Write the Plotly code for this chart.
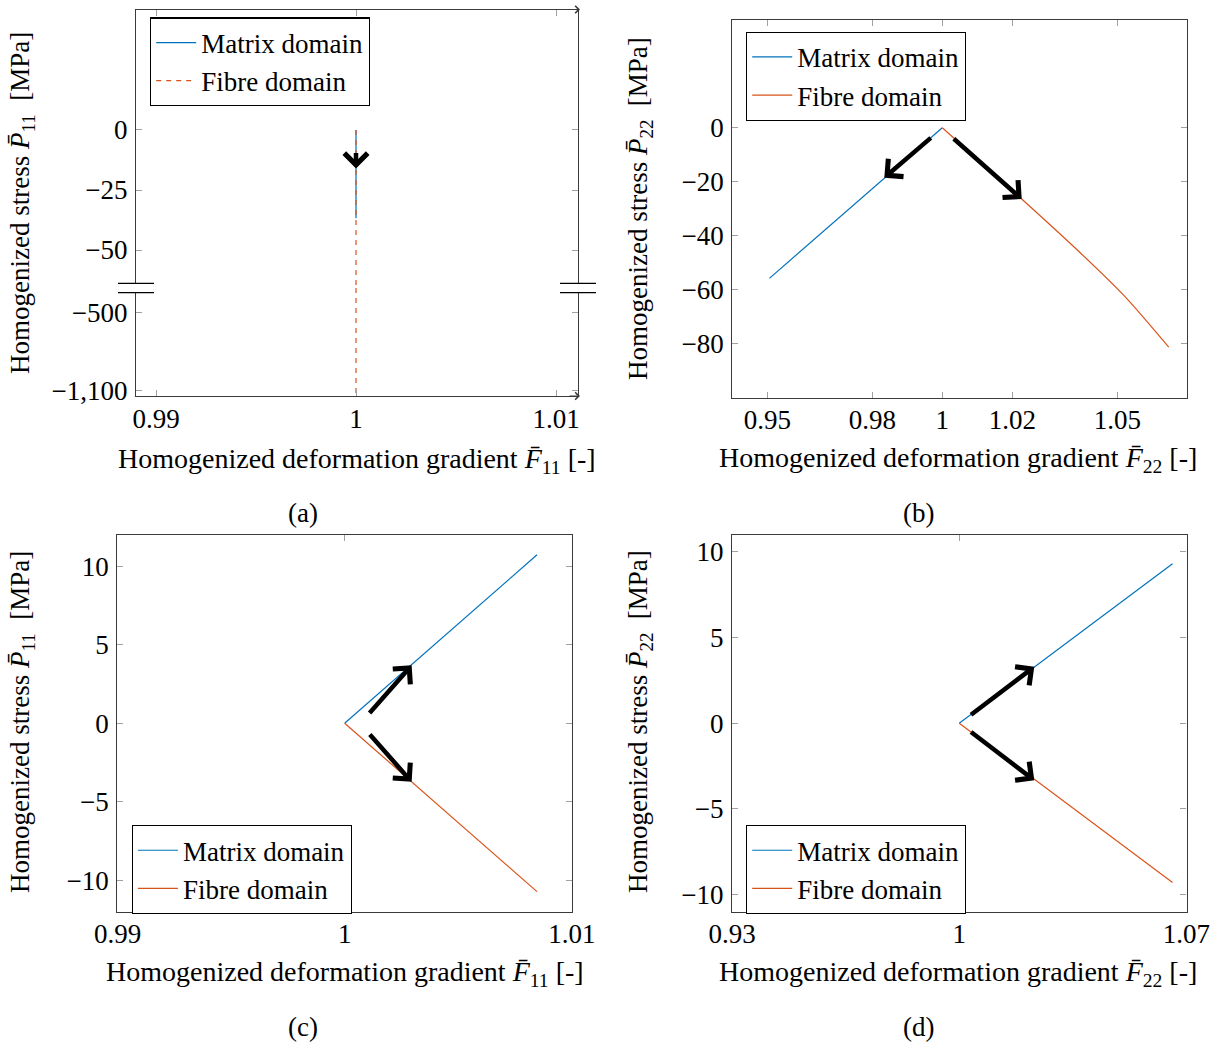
import plotly.graph_objects as go

W, H = 1218, 1045
FONT = "Liberation Serif"
FS = 27
BLUE = "#0072BD"
ORANGE = "#D95319"

# ---------------- data ----------------
# (a) F11 vs P11 (broken y axis)
a_matrix_F = [1.0, 1.0]
a_matrix_P = [0.0, -36.8]
a_fibre_F = [1.0, 1.0]
a_fibre_P = [0.0, -1125.0]

# (b) F22 vs P22
b_matrix_F = [1.0, 0.9834, 0.9506]
b_matrix_P = [0.0, -18.7, -55.8]
b_fibre_F = [1.0, 1.0227, 1.0394, 1.0520, 1.0647]
b_fibre_P = [0.0, -26.4, -46.3, -62.3, -81.3]

# (c) F11 vs P11
c_matrix_F = [1.0, 1.00847]
c_matrix_P = [0.0, 10.72]
c_fibre_F = [1.0, 1.00847]
c_fibre_P = [0.0, -10.72]

# (d) F22 vs P22
d_matrix_F = [1.0, 1.0657]
d_matrix_P = [0.0, 9.30]
d_fibre_F = [1.0, 1.0657]
d_fibre_P = [0.0, -9.30]

# tick values / labels
a_xticks = [0.99, 1.0, 1.01]
a_xlabels = ["0.99", "1", "1.01"]
a_yticks_upper = [0, -25, -50]
a_ylabels_upper = ["0", "\u221225", "\u221250"]
a_yticks_lower = [-500, -1100]
a_ylabels_lower = ["\u2212500", "\u22121,100"]
b_xticks = [0.95, 0.98, 1.0, 1.02, 1.05]
b_xlabels = ["0.95", "0.98", "1", "1.02", "1.05"]
b_yticks = [0, -20, -40, -60, -80]
b_ylabels = ["0", "\u221220", "\u221240", "\u221260", "\u221280"]
c_xticks = [0.99, 1.0, 1.01]
c_xlabels = ["0.99", "1", "1.01"]
c_yticks = [10, 5, 0, -5, -10]
c_ylabels = ["10", "5", "0", "\u22125", "\u221210"]
d_xticks = [0.93, 1.0, 1.07]
d_xlabels = ["0.93", "1", "1.07"]
d_yticks = [10, 5, 0, -5, -10]
d_ylabels = ["10", "5", "0", "\u22125", "\u221210"]

# direction arrows (tail F, tail P, head F, head P)
a_arrows = [(1.0, -9.0, 1.0, -16.0)]
b_arrows = [(0.99714, -3.3, 0.98343, -18.5), (1.00286, -3.6, 1.02269, -26.4)]
c_arrows = [(1.00104, 0.55, 1.00295, 3.69), (1.00105, -0.62, 1.00295, -3.73)]
d_arrows = [(1.00317, 0.43, 1.02312, 3.29), (1.00317, -0.45, 1.02312, -3.33)]


def px(x):
    return x / W


def py(y):
    return 1 - y / H


fig = go.Figure()

# (a) upper and lower segments of the broken axis
for xa, ya, show in (("x", "y", True), ("x2", "y2", False)):
    fig.add_trace(go.Scatter(x=a_matrix_F, y=a_matrix_P, mode="lines", name="Matrix domain",
                             line=dict(color=BLUE, width=1.2), xaxis=xa, yaxis=ya,
                             showlegend=show, legend="legend"))
    fig.add_trace(go.Scatter(x=a_fibre_F, y=a_fibre_P, mode="lines", name="Fibre domain",
                             line=dict(color=ORANGE, width=1.2, dash="5px,5px"), xaxis=xa, yaxis=ya,
                             showlegend=show, legend="legend"))

for (mF, mP, fF, fP, xa, ya, lg) in (
        (b_matrix_F, b_matrix_P, b_fibre_F, b_fibre_P, "x3", "y3", "legend2"),
        (c_matrix_F, c_matrix_P, c_fibre_F, c_fibre_P, "x4", "y4", "legend3"),
        (d_matrix_F, d_matrix_P, d_fibre_F, d_fibre_P, "x5", "y5", "legend4")):
    fig.add_trace(go.Scatter(x=mF, y=mP, mode="lines", name="Matrix domain",
                             line=dict(color=BLUE, width=1.2), xaxis=xa, yaxis=ya, legend=lg))
    fig.add_trace(go.Scatter(x=fF, y=fP, mode="lines", name="Fibre domain",
                             line=dict(color=ORANGE, width=1.2, shape="spline", smoothing=0.8),
                             xaxis=xa, yaxis=ya, legend=lg))

TICKFONT = dict(family=FONT, size=FS, color="black")
LINEC = "#3a3a3a"
TICKC = "#a0a0a0"


def axis(dom, rng, ticks, labels, anchor, horiz, side=None, showlabels=True,
         mirror="ticks", showline=True):
    d = dict(range=rng, tickmode="array", tickvals=ticks, ticktext=labels,
             anchor=anchor, showticklabels=showlabels, ticks="inside", ticklen=6,
             tickwidth=1.2, tickcolor=TICKC, showline=showline, linecolor=LINEC,
             linewidth=1.2, mirror=mirror, showgrid=False, zeroline=False,
             tickfont=TICKFONT, automargin=False)
    if horiz:
        d["domain"] = [px(dom[0]), px(dom[1])]
        d["ticklabelstandoff"] = -2
    else:
        d["domain"] = [py(dom[1]), py(dom[0])]
        d["ticklabelstandoff"] = 2
    if side:
        d["side"] = side
    return d


A_L, A_R = 136, 578
layout = dict(
    width=W, height=H, margin=dict(l=0, r=0, t=0, b=0, autoexpand=False),
    paper_bgcolor="white", plot_bgcolor="white",
    font=dict(family=FONT, size=FS, color="black"),
    showlegend=True,
    # (a)
    xaxis=axis((A_L, A_R), [0.989, 1.0111], a_xticks, a_xlabels, "y", True,
               side="top", showlabels=False, mirror=False),
    yaxis=axis((9.5, 288), [-65.83, 50.2], a_yticks_upper, a_ylabels_upper, "x", False),
    xaxis2=axis((A_L, A_R), [0.989, 1.0111], a_xticks, a_xlabels, "y2", True,
                side="bottom", mirror=False),
    yaxis2=axis((288, 396), [-1144.1, -309.0], a_yticks_lower, a_ylabels_lower, "x2", False),
    # (b)
    xaxis3=axis((732.3, 1187.3), [0.94, 1.07], b_xticks, b_xlabels, "y3", True),
    yaxis3=axis((19.7, 397.7), [-100, 40], b_yticks, b_ylabels, "x3", False),
    # (c)
    xaxis4=axis((117.3, 572), [0.98999, 1.01001], c_xticks, c_xlabels, "y4", True),
    yaxis4=axis((534.7, 911.7), [-12, 12], c_yticks, c_ylabels, "x4", False),
    # (d)
    xaxis5=axis((732, 1186.5), [0.92999, 1.07001], d_xticks, d_xlabels, "y5", True),
    yaxis5=axis((534.7, 911.7), [-11, 11], d_yticks, d_ylabels, "x5", False),
)


def legend_at(x, y):
    return dict(x=px(x), y=py(y), xanchor="left", yanchor="top", bgcolor="white",
                bordercolor="black", borderwidth=1.2, itemwidth=40, tracegroupgap=0,
                font=dict(family=FONT, size=27, color="black"))


layout["legend"] = legend_at(150, 17.3)
layout["legend2"] = legend_at(746, 31.7)
layout["legend3"] = legend_at(131.7, 825)
layout["legend4"] = legend_at(746, 825)
fig.update_layout(**layout)

annotations = []


def text(x, y, s, angle=0, size=FS):
    annotations.append(dict(x=px(x), y=py(y), xref="paper", yref="paper", text=s,
                            showarrow=False, textangle=angle, xanchor="center",
                            yanchor="middle", font=dict(family=FONT, size=size, color="black")))


XT11 = "Homogenized deformation gradient <i>F\u0304</i><sub>11</sub> [-]"
XT22 = "Homogenized deformation gradient <i>F\u0304</i><sub>22</sub> [-]"
YT11 = "Homogenized stress <i>P\u0304</i><sub>11</sub>  [MPa]"
YT22 = "Homogenized stress <i>P\u0304</i><sub>22</sub>  [MPa]"
text(357, 460, XT11, size=28)
text(958, 459, XT22, size=28)
text(345, 973, XT11, size=28)
text(958, 973, XT22, size=28)
text(22, 203, YT11, -90)
text(640, 209, YT22, -90)
text(22, 722, YT11, -90)
text(640, 722, YT22, -90)
text(303, 513, "(a)")
text(918, 513, "(b)")
text(303, 1027, "(c)")
text(918, 1027, "(d)")

for arrows, xa, ya in ((a_arrows, "x", "y"), (b_arrows, "x3", "y3"),
                       (c_arrows, "x4", "y4"), (d_arrows, "x5", "y5")):
    for (f0, p0, f1, p1) in arrows:
        annotations.append(dict(x=f1, y=p1, ax=f0, ay=p0, xref=xa, yref=ya,
                                axref=xa, ayref=ya, text="", showarrow=True,
                                arrowhead=4, arrowsize=1.0, arrowwidth=4.5,
                                arrowcolor="black", standoff=0))

# small arrow tips at the right end of the top/bottom axis lines of (a)
for yy in (9.5, 396):
    annotations.append(dict(x=px(580), y=py(yy), xref="paper", yref="paper", text="",
                            ax=-12, ay=0, showarrow=True, arrowhead=4, arrowsize=1.3,
                            arrowwidth=1.1, arrowcolor=LINEC, standoff=0))

fig.update_layout(annotations=annotations)

# axis-break marks of (a)
shapes = []
for cx in (A_L, A_R):
    shapes.append(dict(type="rect", xref="paper", yref="paper", x0=px(cx - 4), x1=px(cx + 4),
                       y0=py(292.7), y1=py(283.3), fillcolor="white", line=dict(width=0),
                       layer="above"))
    for yy in (283.3, 292.7):
        shapes.append(dict(type="line", xref="paper", yref="paper", x0=px(cx - 18),
                           x1=px(cx + 18), y0=py(yy), y1=py(yy),
                           line=dict(color="black", width=1.3), layer="above"))
fig.update_layout(shapes=shapes)

fig.write_html("out.html", config={"displayModeBar": False},
               post_script="document.body.style.margin='0';")
